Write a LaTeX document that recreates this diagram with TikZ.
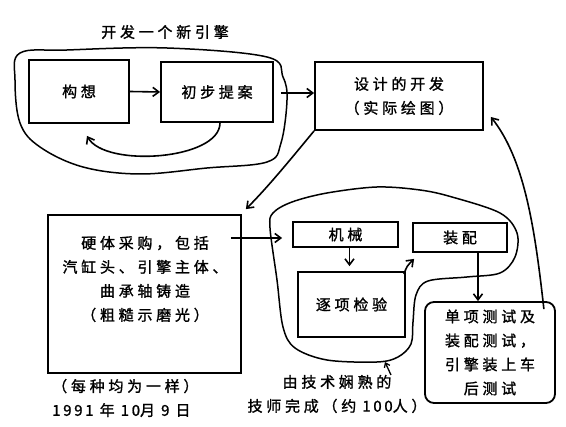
\documentclass[tikz,border=0pt]{standalone}
\usepackage{fontspec}
\usetikzlibrary{arrows.meta}
\newfontfamily\cjk[LetterSpace=25,FakeBold=1.3]{Noto Sans CJK SC}
\newfontfamily\dig[LetterSpace=18,FakeBold=1.3]{Noto Sans CJK SC}
\begin{document}
\begin{tikzpicture}[x=1pt,y=-1pt,
  txt/.style={font={\cjk\fontsize{15}{24}\selectfont},align=center,inner sep=0pt},
  boxx/.style={draw,line width=1.8pt,txt,inner sep=0pt},
  arr/.style={line width=1.6pt,-{Straight Barb[length=6pt,width=9pt,line width=1.6pt]}},
  blob/.style={line width=1.5pt,line join=round}]
\useasboundingbox (0,0) rectangle (566,427);

% title
\node[txt] (title) at (165,32) {开发一个新引擎};

% boxes
\node[boxx,minimum width=100pt,minimum height=63pt] (c1) at (79,91.5) {构想};
\node[boxx,minimum width=112pt,minimum height=60pt] (c2) at (217,92) {初步提案};
\node[boxx,minimum width=168pt,minimum height=68pt] (c3) at (399,96) {设计的开发\\（实际绘图）};
\node[boxx,minimum width=193pt,minimum height=158pt] (hw) at (144.5,294) {};
\node[txt] (hwt) at (145,279) {硬体采购，包括\\汽缸头、引擎主体、\\曲承轴铸造\\（粗糙示磨光）};
\node[boxx,minimum width=105pt,minimum height=25pt] (jx) at (345.5,234.5) {机械};
\node[boxx,minimum width=94pt,minimum height=29pt] (zp) at (460,237.5) {装配};
\node[boxx,minimum width=107pt,minimum height=65pt] (jy) at (351.5,304.5) {逐项检验};
\node[boxx,rounded corners=9pt,minimum width=130pt,minimum height=101pt] (dx) at (490,352.5) {单项测试及\\装配测试，\\引擎装上车\\后测试};

% labels
\node[txt,anchor=west,align=left] (note) at (52,398) {（每种均为一样）\\{\dig 1991\ }年{\dig\ 10}月{\dig\ 9\ }日};
\node[txt] (tech) at (337,394) {由技术娴熟的\\技师完成（约{\dig\ 100}人）};

% blobs
\draw[blob] plot[smooth cycle,tension=0.6] coordinates {(20,53) (67,50) (167,48) (267,57) (283,77) (287,100) (281,143) (267,162) (207,168) (140,174) (83,167) (40,147) (20,123) (15,80)};
\draw[blob] plot[smooth cycle,tension=0.55] coordinates {(273,213) (292,202) (327,193) (377,187) (420,190) (452,197) (500,213) (517,233) (515,257) (500,273) (467,277) (428,281) (416,295) (413,322) (411,344) (398,357) (377,362) (327,360) (295,348) (283,327) (277,280) (270,228)};

% connectors
\draw[arr] (c1.east) -- (c2.west);
\draw[arr] ([xshift=3pt]c2.south) .. controls (220,160) and (105,168) .. ([shift={(8,12)}]c1.south);
\draw[arr,shorten <=7pt] (c2.east |- 0,93) -- (c3.west |- 0,93);
\draw[arr] (c3.south west) .. controls (290,160) and (268,187) .. ([shift={(4,-5)}]hw.north east);
\draw[arr,shorten >=10pt] ([xshift=-11pt]hw.east |- 0,238) -- (jx.west |- 0,238);
\draw[arr,shorten >=5pt] ([xshift=4pt]jx.south) -- ([xshift=4pt]jx.south |- jy.north);
\draw[arr] ([shift={(-2,3)}]jy.north east) .. controls (407,266) .. ([shift={(2,6)}]zp.south west);
\draw[arr] ([xshift=18pt]zp.south) -- ([xshift=18pt]zp.south |- dx.north);
\draw[arr] ([shift={(-12,8)}]dx.north east) .. controls (535,230) and (525,160) .. ([shift={(7,21)}]c3.east);
\coordinate (lt) at (391,375);
\coordinate (lh) at (385,362);
\draw[line width=1.3pt,-{Straight Barb[length=4pt,width=6pt,line width=1.3pt]}] (lt) -- (lh);
\end{tikzpicture}
\end{document}
